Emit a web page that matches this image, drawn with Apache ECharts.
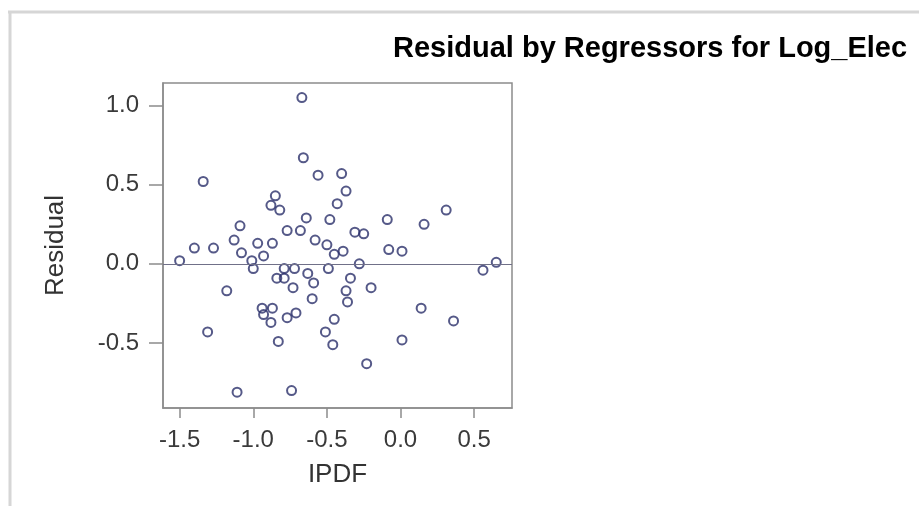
<!DOCTYPE html>
<html>
<head>
<meta charset="utf-8">
<script src="https://cdn.jsdelivr.net/npm/echarts@6/dist/echarts.min.js"></script>
<style>
html,body{margin:0;padding:0;background:#fff;}
#chart{width:919px;height:506px;}
</style>
</head>
<body>
<div id="chart"></div>
<script>
// ---- data ----
const ipdf = [
  -0.67, -0.66, -0.56, -0.40, -0.37, -0.43, -1.34, -0.85, -0.88, -0.82,
  -0.64, -0.48, -1.09, -0.77, -0.68, -1.13, -0.58, -0.50, -0.45, -1.40,
  -1.27, -0.97, -0.87, -1.08, -0.93, -1.01, -1.00, -1.50, -0.79, -0.72,
  -0.49, -0.63, -0.09, 0.16, 0.31, -0.31, -0.25, -0.39, -0.08, 0.01,
  -0.28, 0.65, 0.56, -0.34, -0.84, -0.79, -0.59, -0.73, -1.18, -0.37,
  -0.20, -0.60, -0.36, -0.94, -0.87, -0.93, -0.88, -0.77, -0.71, -0.45,
  -0.51, -0.46, -1.31, -0.83, 0.14, 0.36, 0.01, -0.23, -1.11, -0.74
];
const residual = [
  1.05, 0.67, 0.56, 0.57, 0.46, 0.38, 0.52, 0.43, 0.37, 0.34,
  0.29, 0.28, 0.24, 0.21, 0.21, 0.15, 0.15, 0.12, 0.06, 0.10,
  0.10, 0.13, 0.13, 0.07, 0.05, 0.02, -0.03, 0.02, -0.03, -0.03,
  -0.03, -0.06, 0.28, 0.25, 0.34, 0.20, 0.19, 0.08, 0.09, 0.08,
  0.00, 0.01, -0.04, -0.09, -0.09, -0.09, -0.12, -0.15, -0.17, -0.17,
  -0.15, -0.22, -0.24, -0.28, -0.28, -0.32, -0.37, -0.34, -0.31, -0.35,
  -0.43, -0.51, -0.43, -0.49, -0.28, -0.36, -0.48, -0.63, -0.81, -0.80
];
const xTicks = [-1.5, -1.0, -0.5, 0.0, 0.5];
const yTicks = [-0.5, 0.0, 0.5, 1.0];
const titleText = 'Residual by Regressors for Log_Elec';
const xName = 'IPDF';
const yName = 'Residual';
const refLineValue = 0;

// ---- chart ----
const FONT = "'Liberation Sans', Arial, sans-serif";
const AXIS = '#8c8c8c';
const points = ipdf.map((x, i) => [x, residual[i]]);

const chart = echarts.init(document.getElementById('chart'), null, {renderer: 'canvas'});
chart.setOption({
  animation: false,
  backgroundColor: '#ffffff',
  title: {
    text: titleText,
    left: 393,
    top: 34,
    padding: 0,
    textStyle: {fontFamily: FONT, fontSize: 29, fontWeight: 'bold', color: '#000000'}
  },
  graphic: [
    {type: 'line', shape: {x1: 8, y1: 12, x2: 919, y2: 12}, style: {stroke: '#d6d6d6', lineWidth: 3}, silent: true},
    {type: 'line', shape: {x1: 10, y1: 12, x2: 10, y2: 506}, style: {stroke: '#d6d6d6', lineWidth: 3}, silent: true}
  ],
  grid: {
    left: 163, top: 83, width: 349, height: 325,
    show: true, borderColor: AXIS, borderWidth: 1.5, backgroundColor: 'transparent'
  },
  xAxis: {
    type: 'value',
    min: -1.613, max: 0.757,
    name: xName,
    nameLocation: 'middle',
    nameGap: 54,
    nameTextStyle: {fontFamily: FONT, fontSize: 26, color: '#333333'},
    axisLine: {show: true, onZero: false, lineStyle: {color: AXIS, width: 1.5}},
    axisTick: {show: true, length: 10, customValues: xTicks, lineStyle: {color: AXIS, width: 1.5}},
    axisLabel: {customValues: xTicks, formatter: v => v.toFixed(1), margin: 20, fontFamily: FONT, fontSize: 24, color: '#3a3a3a'},
    splitLine: {show: false}
  },
  yAxis: {
    type: 'value',
    min: -0.910, max: 1.142,
    name: yName,
    nameLocation: 'middle',
    nameGap: 94,
    nameTextStyle: {fontFamily: FONT, fontSize: 26, color: '#333333'},
    axisLine: {show: true, onZero: false, lineStyle: {color: AXIS, width: 1.5}},
    axisTick: {show: true, length: 14, customValues: yTicks, lineStyle: {color: AXIS, width: 1.5}},
    axisLabel: {customValues: yTicks, formatter: v => v.toFixed(1), margin: 24, fontFamily: FONT, fontSize: 24, color: '#3a3a3a'},
    splitLine: {show: false}
  },
  series: [{
    type: 'scatter',
    data: points,
    symbol: 'circle',
    symbolSize: 9,
    itemStyle: {color: 'rgba(255,255,255,0)', borderColor: '#2a2f6a', borderWidth: 2},
    markLine: {
      silent: true,
      symbol: 'none',
      label: {show: false},
      lineStyle: {color: '#707088', width: 1.2, type: 'solid'},
      data: [{yAxis: refLineValue}]
    }
  }]
});
</script>
</body>
</html>
